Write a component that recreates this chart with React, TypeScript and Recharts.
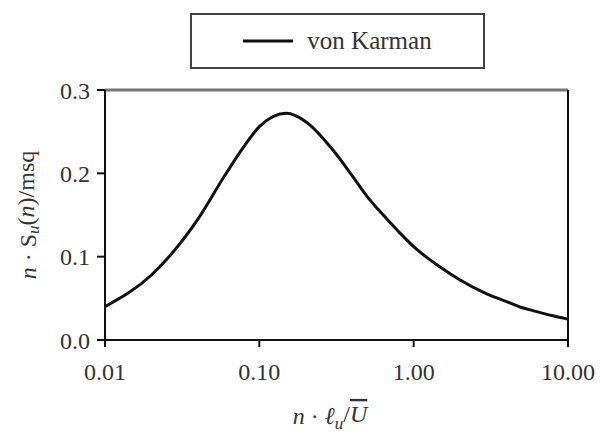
import type React from 'react';

import { Label, Legend, Line, LineChart, ReferenceLine, XAxis, YAxis } from 'recharts';

const freq = [0.01, 0.02, 0.04, 0.06, 0.08, 0.1, 0.15, 0.2, 0.3, 0.4, 0.5, 0.6, 0.8, 1, 1.5, 2, 3, 4, 5, 6, 8, 10];
const vonKarman = [0.04, 0.078, 0.145, 0.198, 0.233, 0.256, 0.272, 0.262, 0.228, 0.197, 0.172, 0.155, 0.13, 0.112, 0.087, 0.072, 0.055, 0.046, 0.039, 0.035, 0.029, 0.025];
const xTicks = [0.01, 0.1, 1, 10];
const yTicks = [0, 0.1, 0.2, 0.3];

const data = freq.map((f, i) => ({ f, s: vonKarman[i] }));

const FONT = '"Liberation Serif", "Times New Roman", serif';
const tickStyle = { fontSize: 24, fill: '#333', fontFamily: FONT };

const LegendBox = () => (
   <div
      style={{
         width: 295,
         height: 56,
         boxSizing: 'border-box',
         border: '2px solid #444',
         display: 'flex',
         alignItems: 'center',
         justifyContent: 'center',
         gap: 14,
         fontFamily: FONT,
         fontSize: 25,
         color: '#333',
      }}
   >
      <svg width={50} height={6}>
         <line x1={0} y1={3} x2={50} y2={3} stroke="#111" strokeWidth={3} />
      </svg>
      <span>von Karman</span>
   </div>
);

const YTitle = (props: any) => {
   const cx = 28;
   const cy = 215;
   return (
      <text x={cx} y={cy} transform={`rotate(-90 ${cx} ${cy})`} textAnchor="middle" dominantBaseline="central" fontFamily={FONT} fontSize={24} fill="#333">
         <tspan fontStyle="italic">n</tspan>
         <tspan> · S</tspan>
         <tspan dy="0.3em" fontSize={17} fontStyle="italic">u</tspan>
         <tspan dy="-0.3em">(</tspan>
         <tspan fontStyle="italic">n</tspan>
         <tspan>)/msq</tspan>
      </text>
   );
};

const XTitle = (props: any) => {
   const cx = 330;
   const cy = 424;
   return (
      <text x={cx} y={cy} textAnchor="middle" fontFamily={FONT} fontSize={24} fill="#333">
         <tspan fontStyle="italic">n</tspan>
         <tspan> · </tspan>
         <tspan fontStyle="italic">ℓ</tspan>
         <tspan dy="0.3em" fontSize={17} fontStyle="italic">u</tspan>
         <tspan dy="-0.3em">/</tspan>
         <tspan fontStyle="italic" textDecoration="overline">U</tspan>
      </text>
   );
};

const App: React.FC = () => {
   return (
      <div style={{ position: 'absolute', left: 0, top: 0, background: '#fff' }}>
         <LineChart width={600} height={442} data={data} margin={{ top: 90, right: 32, left: 0, bottom: 42 }}>
            <XAxis
               dataKey="f"
               type="number"
               scale="log"
               domain={[0.01, 10]}
               ticks={xTicks}
               allowDataOverflow
               tickFormatter={(v: number) => v.toFixed(2)}
               tick={tickStyle}
               tickSize={7}
               tickMargin={16}
               height={60}
               axisLine={{ stroke: '#111', strokeWidth: 2 }}
               tickLine={{ stroke: '#111', strokeWidth: 2 }}
            >
               <Label content={<XTitle />} />
            </XAxis>

            <YAxis
               type="number"
               domain={[0, 0.3]}
               ticks={yTicks}
               allowDataOverflow
               tickFormatter={(v: number) => v.toFixed(1)}
               tick={tickStyle}
               tickSize={8}
               tickMargin={7}
               width={105}
               axisLine={{ stroke: '#111', strokeWidth: 2 }}
               tickLine={{ stroke: '#111', strokeWidth: 2 }}
            >
               <Label content={<YTitle />} />
            </YAxis>

            <ReferenceLine y={0.3} stroke="#777" strokeWidth={3} />
            <ReferenceLine x={10} stroke="#111" strokeWidth={2} />

            <Legend verticalAlign="middle" align="center" layout="horizontal" content={<LegendBox />} wrapperStyle={{ top: 13, left: 190, width: 295, height: 56 }} />

            <Line type="monotone" dataKey="s" stroke="#111" strokeWidth={3} dot={false} isAnimationActive={false} />
         </LineChart>
      </div>
   );
};

export default App;
